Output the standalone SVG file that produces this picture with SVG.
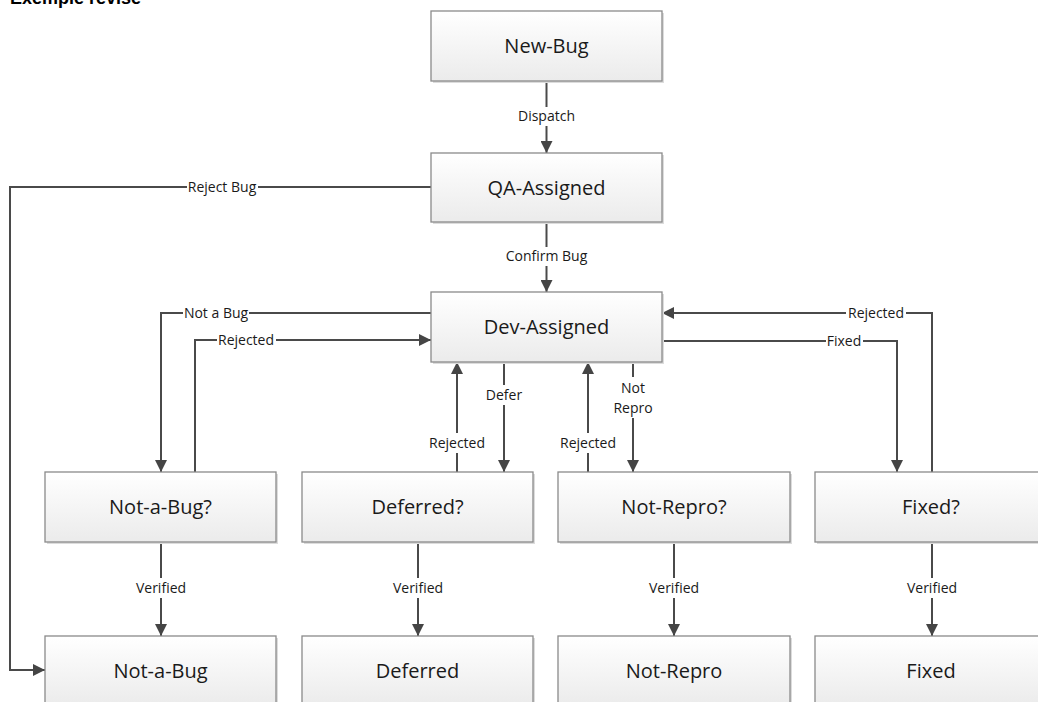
<svg xmlns="http://www.w3.org/2000/svg" width="1038" height="702" viewBox="0 0 1038 702">
<defs>
<linearGradient id="g" x1="0" y1="0" x2="0" y2="1">
<stop offset="0" stop-color="#ffffff"/>
<stop offset="1" stop-color="#ebebeb"/>
</linearGradient>
<marker id="ah" markerUnits="userSpaceOnUse" markerWidth="12" markerHeight="12" viewBox="0 0 10 10" refX="10" refY="5" orient="auto">
<path d="M0,0 L10,5 L0,10 z" fill="#454545"/>
</marker>
<style>
.box{fill:url(#g);stroke:#8a8a8a;stroke-width:1.3}
.sh{fill:#dcdcdc}
.nt{font-family:"Open Sans","Noto Sans",sans-serif;font-size:20px;fill:#1a1a1a;text-anchor:middle}
.ln{fill:none;stroke:#4a4a4a;stroke-width:2}
.arr{marker-end:url(#ah)}
.lb{font-family:"Open Sans","Noto Sans",sans-serif;font-size:14px;fill:#1a1a1a;text-anchor:middle}
.bg{fill:#ffffff}
.title{font-family:"Liberation Sans",Arial,sans-serif;font-size:18px;font-weight:bold;fill:#000}
</style>
</defs>
<rect width="1038" height="702" fill="#ffffff"/>
<text class="title" x="10" y="4">Exemple revise</text>

<g id="connectors">
<path class="ln arr" d="M546.5,81 V153"/>
<path class="ln arr" d="M546.5,222 V292"/>
<path class="ln arr" d="M431,187 H10 V670 H45"/>
<path class="ln arr" d="M431,313 H161 V472"/>
<path class="ln arr" d="M195,472 V340 H431"/>
<path class="ln arr" d="M504,362 V472"/>
<path class="ln arr" d="M457,472 V362"/>
<path class="ln arr" d="M633,362 V472"/>
<path class="ln arr" d="M588,472 V362"/>
<path class="ln arr" d="M662,341 H897 V472"/>
<path class="ln arr" d="M932,472 V313 H662"/>
<path class="ln arr" d="M161,542 V636"/>
<path class="ln arr" d="M418,542 V636"/>
<path class="ln arr" d="M674,542 V636"/>
<path class="ln arr" d="M932,542 V636"/>

<rect class="bg" x="516" y="107" width="61" height="19"/>
<text class="lb" x="546.5" y="121">Dispatch</text>
<rect class="bg" x="507" y="247" width="80" height="19"/>
<text class="lb" x="546.5" y="261">Confirm Bug</text>
<rect class="bg" x="187" y="180" width="71" height="14"/>
<text class="lb" x="222" y="192">Reject Bug</text>
<rect class="bg" x="183" y="306" width="66" height="14"/>
<text class="lb" x="216" y="318">Not a Bug</text>
<rect class="bg" x="217" y="333" width="59" height="14"/>
<text class="lb" x="246" y="345">Rejected</text>
<rect class="bg" x="427" y="433" width="60" height="20"/>
<text class="lb" x="457" y="448">Rejected</text>
<rect class="bg" x="485" y="385" width="38" height="20"/>
<text class="lb" x="504" y="400">Defer</text>
<rect class="bg" x="558" y="433" width="60" height="20"/>
<text class="lb" x="588" y="448">Rejected</text>
<rect class="bg" x="612" y="377" width="42" height="41"/>
<text class="lb" x="633" y="393">Not</text>
<text class="lb" x="633" y="413">Repro</text>
<rect class="bg" x="826" y="334" width="37" height="14"/>
<text class="lb" x="844" y="346">Fixed</text>
<rect class="bg" x="846" y="306" width="60" height="14"/>
<text class="lb" x="876" y="318">Rejected</text>
<rect class="bg" x="135" y="578" width="52" height="20"/>
<text class="lb" x="161" y="593">Verified</text>
<rect class="bg" x="392" y="578" width="52" height="20"/>
<text class="lb" x="418" y="593">Verified</text>
<rect class="bg" x="648" y="578" width="52" height="20"/>
<text class="lb" x="674" y="593">Verified</text>
<rect class="bg" x="906" y="578" width="52" height="20"/>
<text class="lb" x="932" y="593">Verified</text>
</g>

<g id="new-bug"><rect class="sh" x="433" y="13" width="231" height="70"/><rect class="box" x="431" y="11" width="231" height="70"/><text class="nt" x="546.5" y="53">New-Bug</text></g>
<g id="qa-assigned"><rect class="sh" x="433" y="155" width="231" height="69"/><rect class="box" x="431" y="153" width="231" height="69"/><text class="nt" x="546.5" y="194.5">QA-Assigned</text></g>
<g id="dev-assigned"><rect class="sh" x="433" y="294" width="231" height="70"/><rect class="box" x="431" y="292" width="231" height="70"/><text class="nt" x="546.5" y="334">Dev-Assigned</text></g>

<g id="not-a-bug-q"><rect class="sh" x="47" y="474" width="231" height="70"/><rect class="box" x="45" y="472" width="231" height="70"/><text class="nt" x="160.5" y="514">Not-a-Bug?</text></g>
<g id="deferred-q"><rect class="sh" x="304" y="474" width="231" height="70"/><rect class="box" x="302" y="472" width="231" height="70"/><text class="nt" x="417.5" y="514">Deferred?</text></g>
<g id="not-repro-q"><rect class="sh" x="560" y="474" width="232" height="70"/><rect class="box" x="558" y="472" width="232" height="70"/><text class="nt" x="674" y="514">Not-Repro?</text></g>
<g id="fixed-q"><rect class="sh" x="817" y="474" width="231" height="70"/><rect class="box" x="815" y="472" width="231" height="70"/><text class="nt" x="931" y="514">Fixed?</text></g>

<g id="not-a-bug"><rect class="sh" x="47" y="638" width="231" height="70"/><rect class="box" x="45" y="636" width="231" height="70"/><text class="nt" x="160.5" y="678">Not-a-Bug</text></g>
<g id="deferred"><rect class="sh" x="304" y="638" width="231" height="70"/><rect class="box" x="302" y="636" width="231" height="70"/><text class="nt" x="417.5" y="678">Deferred</text></g>
<g id="not-repro"><rect class="sh" x="560" y="638" width="232" height="70"/><rect class="box" x="558" y="636" width="232" height="70"/><text class="nt" x="674" y="678">Not-Repro</text></g>
<g id="fixed"><rect class="sh" x="817" y="638" width="231" height="70"/><rect class="box" x="815" y="636" width="231" height="70"/><text class="nt" x="931" y="678">Fixed</text></g>
</svg>
